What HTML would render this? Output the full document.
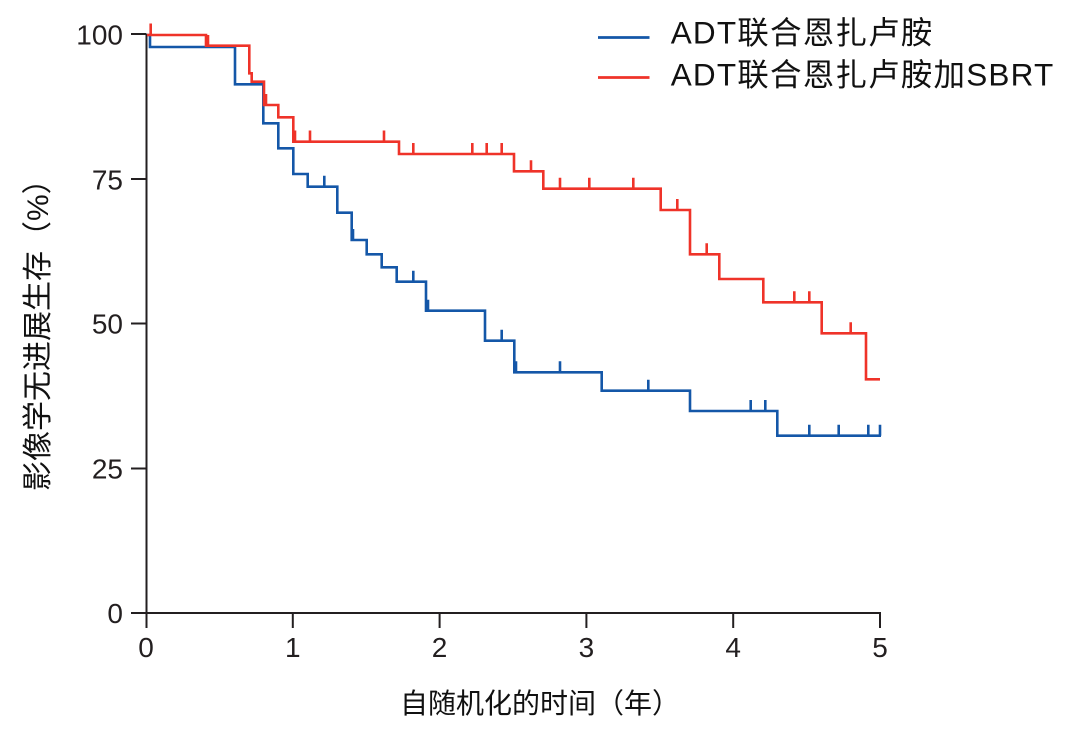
<!DOCTYPE html>
<html>
<head>
<meta charset="utf-8">
<style>
  html,body{margin:0;padding:0;background:#fff;}
  svg{display:block;}
  .tk{font-family:"Liberation Sans","DejaVu Sans",sans-serif;font-size:28px;fill:#231f20;}
  .cj{font-family:"Liberation Sans","Noto Sans CJK SC",sans-serif;fill:#111;}
</style>
</head>
<body>
<svg width="1084" height="737" viewBox="0 0 1084 737" xmlns="http://www.w3.org/2000/svg">
  <rect width="1084" height="737" fill="#fff"/>

  <!-- axes -->
  <g stroke="#231f20" stroke-width="2" fill="none">
    <line x1="146.5" y1="34" x2="146.5" y2="628"/>
    <line x1="131" y1="613" x2="881" y2="613"/>
    <line x1="131" y1="34" x2="146.5" y2="34"/>
    <line x1="131" y1="179" x2="146.5" y2="179"/>
    <line x1="131" y1="323.5" x2="146.5" y2="323.5"/>
    <line x1="131" y1="468.5" x2="146.5" y2="468.5"/>
    <line x1="292.8" y1="613" x2="292.8" y2="628"/>
    <line x1="439.6" y1="613" x2="439.6" y2="628"/>
    <line x1="586.4" y1="613" x2="586.4" y2="628"/>
    <line x1="733.2" y1="613" x2="733.2" y2="628"/>
    <line x1="880" y1="612" x2="880" y2="628"/>
  </g>

  <!-- y tick labels -->
  <g class="tk" text-anchor="end">
    <text x="123" y="44.5">100</text>
    <text x="123" y="189.5">75</text>
    <text x="123" y="333.5">50</text>
    <text x="123" y="478.5">25</text>
    <text x="123" y="623">0</text>
  </g>
  <!-- x tick labels -->
  <g class="tk" text-anchor="middle">
    <text x="146" y="657">0</text>
    <text x="292.8" y="657">1</text>
    <text x="439.6" y="657">2</text>
    <text x="586.4" y="657">3</text>
    <text x="733.2" y="657">4</text>
    <text x="880" y="657">5</text>
  </g>

  <!-- axis titles -->
  <text class="cj" x="400" y="713" font-size="28">自随机化的时间（年）</text>
  <text class="cj" font-size="30" transform="translate(48,491) rotate(-90)">影像学无进展生存（%）</text>

  <!-- blue curve -->
  <g stroke="#1457a8" stroke-width="2.6" fill="none" stroke-linejoin="miter" stroke-linecap="butt">
    <path d="M147 35 H150 V47 H235 V84.3 H263.3 V123.3 H278.3 V148.3 H293.3 V174 H307.7 V186.7 H337.3 V212.7 H351.7 V240 H366.7 V254.3 H381.7 V267.3 H396.7 V281.7 H426 V310.7 H485 V340.7 H514.3 V372.3 H601.7 V390.7 H690 V411 H777.3 V435.7 H881"/>
    <path d="M324.3 186.7 V175.7 M353 240 V229 M413.3 281.7 V270.7 M428 310.7 V299.7 M501.7 340.7 V329.7 M516 372.3 V361.3 M560 372.3 V361.3 M648.3 390.7 V379.7 M750.7 411 V400 M765.3 411 V400 M809.3 435.7 V424.7 M838.7 435.7 V424.7 M868.3 435.7 V424.7 M880 435.7 V424.7"/>
  </g>

  <!-- red curve -->
  <g stroke="#ef3329" stroke-width="2.6" fill="none" stroke-linejoin="miter" stroke-linecap="butt">
    <path d="M147 35 H206 V45.7 H249.3 V73.3 H251.7 V81.7 H264 V105 H278.3 V117.3 H293.3 V141.7 H399 V154 H514 V171.3 H543.3 V188.7 H660.7 V210 H690 V254.3 H719.3 V279 H763.3 V302.3 H821.7 V333.3 H866 V379.3 H880"/>
    <path d="M150.7 35 V23.5 M208 45.7 V35 M266 105 V94 M295 141.7 V130.5 M310 141.7 V130.5 M384 141.7 V130.5 M413.3 154 V143 M472.3 154 V143 M486.7 154 V143 M501.7 154 V143 M531 171.3 V160.3 M560 188.7 V177.7 M589.3 188.7 V177.7 M633.3 188.7 V177.7 M677.3 210 V199 M706.7 254.3 V243.3 M794.3 302.3 V291.3 M809.3 302.3 V291.3 M850.7 333.3 V322.3"/>
  </g>

  <!-- legend -->
  <line x1="598" y1="37.5" x2="649.5" y2="37.5" stroke="#1457a8" stroke-width="2.8"/>
  <line x1="598" y1="77.5" x2="649.5" y2="77.5" stroke="#ef3329" stroke-width="2.8"/>
  <text class="cj" x="670.7" y="43.5" font-size="31.5" letter-spacing="1.2">ADT联合恩扎卢胺</text>
  <text class="cj" x="670.7" y="85.5" font-size="31.5" letter-spacing="1.2">ADT联合恩扎卢胺加SBRT</text>
</svg>
</body>
</html>
